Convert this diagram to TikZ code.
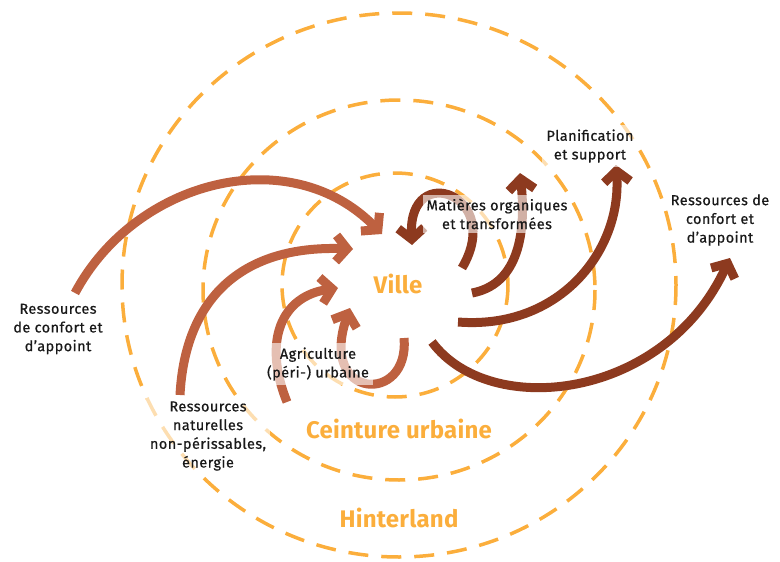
\documentclass[tikz,border=0pt]{standalone}
\usepackage{fontspec}
\setmainfont{Fira Sans}[LetterSpace=3,FakeBold=0.6]
\newfontfamily\zonefont{Fira Sans}[LetterSpace=1]
\usetikzlibrary{arrows.meta}
\definecolor{ring}{HTML}{FBAE3C}
\definecolor{inc}{HTML}{BE6140}
\definecolor{outc}{HTML}{8D3A1F}
\begin{document}
\begin{tikzpicture}[x=1pt,y=-1pt,
 ringline/.style={draw=ring, line width=3.5pt, dash pattern=on 20pt off 13pt},
 flow/.style={line width=9pt, -{Straight Barb[length=11pt,width=26pt,sharp]}},
 lbl/.style={font=\fontsize{14.5}{18.7}\selectfont, align=center, text=black!90, inner sep=4pt},
 lblbox/.style={lbl, fill=white, fill opacity=0.6, text opacity=1},
 zone/.style={font=\zonefont\fontsize{24}{26}\selectfont\bfseries, text=ring}]
\useasboundingbox (0,0) rectangle (780,562);
% rings
\draw[ringline] (399,285) ellipse [x radius=277, y radius=272];
\draw[ringline] (399,290) ellipse [x radius=196, y radius=190];
\draw[ringline] (395,285) ellipse [x radius=113, y radius=112];
% incoming flows
\draw[flow, inc] (75,293) .. controls (135,180) and (290,140) .. (382,234);
\draw[flow, inc] (180,395) .. controls (185,300) and (240,245) .. (353,249);
\draw[flow, inc] (287,402) .. controls (262,340) and (282,296) .. (338,288);
\draw[flow, inc] (404,338) .. controls (410,405) and (318,400) .. (350,308);
% outgoing flows
\draw[flow, outc] (462,268) .. controls (505,195) and (408,160) .. (412,245);
\draw[flow, outc] (472,293) .. controls (515,285) and (527,240) .. (520,173);
\draw[flow, outc] (458,322) .. controls (560,330) and (622,250) .. (616,165);
\draw[flow, outc] (432,342) .. controls (490,420) and (665,400) .. (730,258);
% labels
\node[lbl] (rcg) at (58,329) {Ressources\\de confort et\\d’appoint};
\node[lbl] (rcd) at (720,220) {Ressources de\\confort et\\d’appoint};
\node[lblbox] (rn) at (208,436) {Ressources\\naturelles\\non-périssables,\\énergie};
\node[lblbox] (agri) at (318,364) {Agriculture\\(péri-) urbaine};
\node[lblbox] (mat) at (497,214) {Matières organiques\\et transformées};
\node[lblbox] (plan) at (590,146) {Planification\\et support};
% zones
\node[zone] (ville) at (398,284) {Ville};
\node[zone] (ceint) at (399,429) {Ceinture urbaine};
\node[zone] (hint) at (399,518) {Hinterland};
\end{tikzpicture}
\end{document}
